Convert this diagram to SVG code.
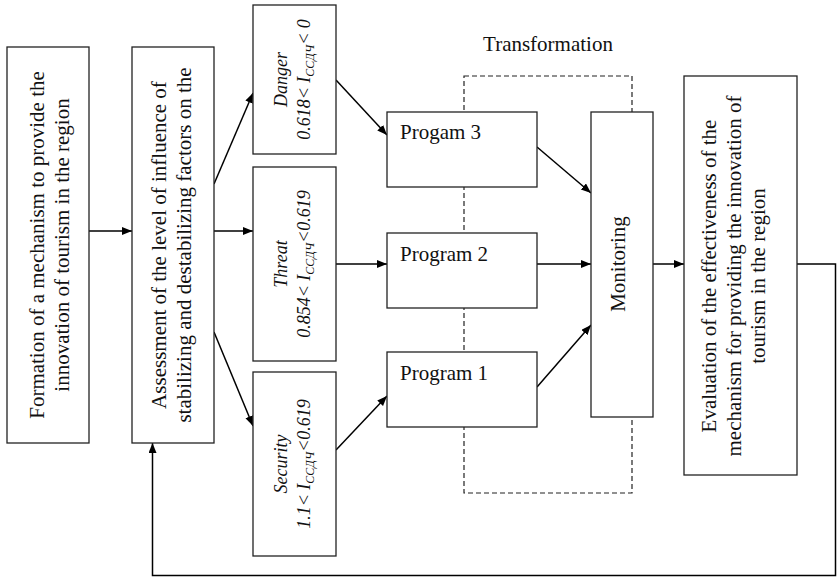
<svg xmlns="http://www.w3.org/2000/svg" width="837" height="578" viewBox="0 0 837 578">
<style>
.box{fill:#fff;stroke:#222;stroke-width:1.3}
.t{font-family:"Liberation Serif","Times New Roman",serif;font-size:21px;fill:#111}
.it{font-family:"Liberation Serif","Times New Roman",serif;font-size:18px;font-style:italic;fill:#111}
.sub{font-size:12px}
.ln{fill:none;stroke:#000;stroke-width:1.5}
.dash{fill:none;stroke:#222;stroke-width:1.2;stroke-dasharray:5,3}
</style>
<defs>
<marker id="ah" markerUnits="userSpaceOnUse" markerWidth="11" markerHeight="9" refX="10" refY="4" orient="auto">
<path d="M0,0 L10,4 L0,8 z" fill="#000"/>
</marker>
</defs>

<g id="transformation">
<rect class="dash" x="464" y="76" width="168" height="417"/>
<text class="t" x="548" y="51" text-anchor="middle">Transformation</text>
</g>

<g id="connectors">
<line class="ln" x1="89" y1="231" x2="132" y2="231" marker-end="url(#ah)"/>
<line class="ln" x1="214" y1="184" x2="253" y2="93" marker-end="url(#ah)"/>
<line class="ln" x1="214" y1="231" x2="253" y2="231" marker-end="url(#ah)"/>
<line class="ln" x1="214" y1="332" x2="253" y2="426" marker-end="url(#ah)"/>
<line class="ln" x1="336" y1="80" x2="387" y2="135" marker-end="url(#ah)"/>
<line class="ln" x1="336" y1="264" x2="387" y2="264" marker-end="url(#ah)"/>
<line class="ln" x1="336" y1="450" x2="387" y2="396" marker-end="url(#ah)"/>
<line class="ln" x1="537" y1="147" x2="591" y2="193" marker-end="url(#ah)"/>
<line class="ln" x1="537" y1="264" x2="591" y2="264" marker-end="url(#ah)"/>
<line class="ln" x1="537" y1="387" x2="591" y2="325" marker-end="url(#ah)"/>
<line class="ln" x1="653" y1="264" x2="684" y2="264" marker-end="url(#ah)"/>
<polyline class="ln" points="797,264 835.5,264 835.5,575.5 152.5,575.5 152.5,443" marker-end="url(#ah)"/>
</g>

<g id="formation">
<rect class="box" x="7" y="47" width="82" height="396"/>
<text class="t" transform="translate(48,245) rotate(-90)" text-anchor="middle"><tspan x="0" y="-4">Formation of a mechanism to provide the</tspan><tspan x="0" y="21">innovation of tourism in the region</tspan></text>
</g>

<g id="assessment">
<rect class="box" x="132" y="47" width="82" height="396"/>
<text class="t" transform="translate(173,245) rotate(-90)" text-anchor="middle"><tspan x="0" y="-7">Assessment of the level of influence of</tspan><tspan x="0" y="18">stabilizing and destabilizing factors on the</tspan></text>
</g>

<g id="danger">
<rect class="box" x="253" y="5" width="83" height="149"/>
<text class="it" transform="translate(294.5,79.5) rotate(-90)" text-anchor="middle"><tspan x="0" y="-8">Danger</tspan><tspan x="0" y="15">0.618&lt; I<tspan class="sub" dy="4">ССДЧ</tspan><tspan dy="-4">&lt; 0</tspan></tspan></text>
</g>

<g id="threat">
<rect class="box" x="253" y="167" width="83" height="194"/>
<text class="it" transform="translate(294.5,264) rotate(-90)" text-anchor="middle"><tspan x="0" y="-8">Threat</tspan><tspan x="0" y="15">0.854&lt; I<tspan class="sub" dy="4">ССДЧ</tspan><tspan dy="-4">&lt;0.619</tspan></tspan></text>
</g>

<g id="security">
<rect class="box" x="253" y="372" width="83" height="184"/>
<text class="it" transform="translate(294.5,464) rotate(-90)" text-anchor="middle"><tspan x="0" y="-8">Security</tspan><tspan x="0" y="15">1.1&lt; I<tspan class="sub" dy="4">ССДЧ</tspan><tspan dy="-4">&lt;0.619</tspan></tspan></text>
</g>

<g id="program3">
<rect class="box" x="387" y="112" width="150" height="75"/>
<text class="t" x="400" y="139">Progam 3</text>
</g>

<g id="program2">
<rect class="box" x="387" y="233" width="150" height="75"/>
<text class="t" x="400" y="261">Program 2</text>
</g>

<g id="program1">
<rect class="box" x="387" y="352" width="150" height="75"/>
<text class="t" x="400" y="380">Program 1</text>
</g>

<g id="monitoring">
<rect class="box" x="591" y="112" width="62" height="305"/>
<text class="t" transform="translate(622,264) rotate(-90)" text-anchor="middle" y="3">Monitoring</text>
</g>

<g id="evaluation">
<rect class="box" x="684" y="76" width="113" height="399"/>
<text class="t" transform="translate(740.5,276) rotate(-90)" text-anchor="middle"><tspan x="0" y="-24.5">Evaluation of the effectiveness of the</tspan><tspan x="0" y="0.5">mechanism for providing the innovation of</tspan><tspan x="0" y="24.5">tourism in the region</tspan></text>
</g>
</svg>
